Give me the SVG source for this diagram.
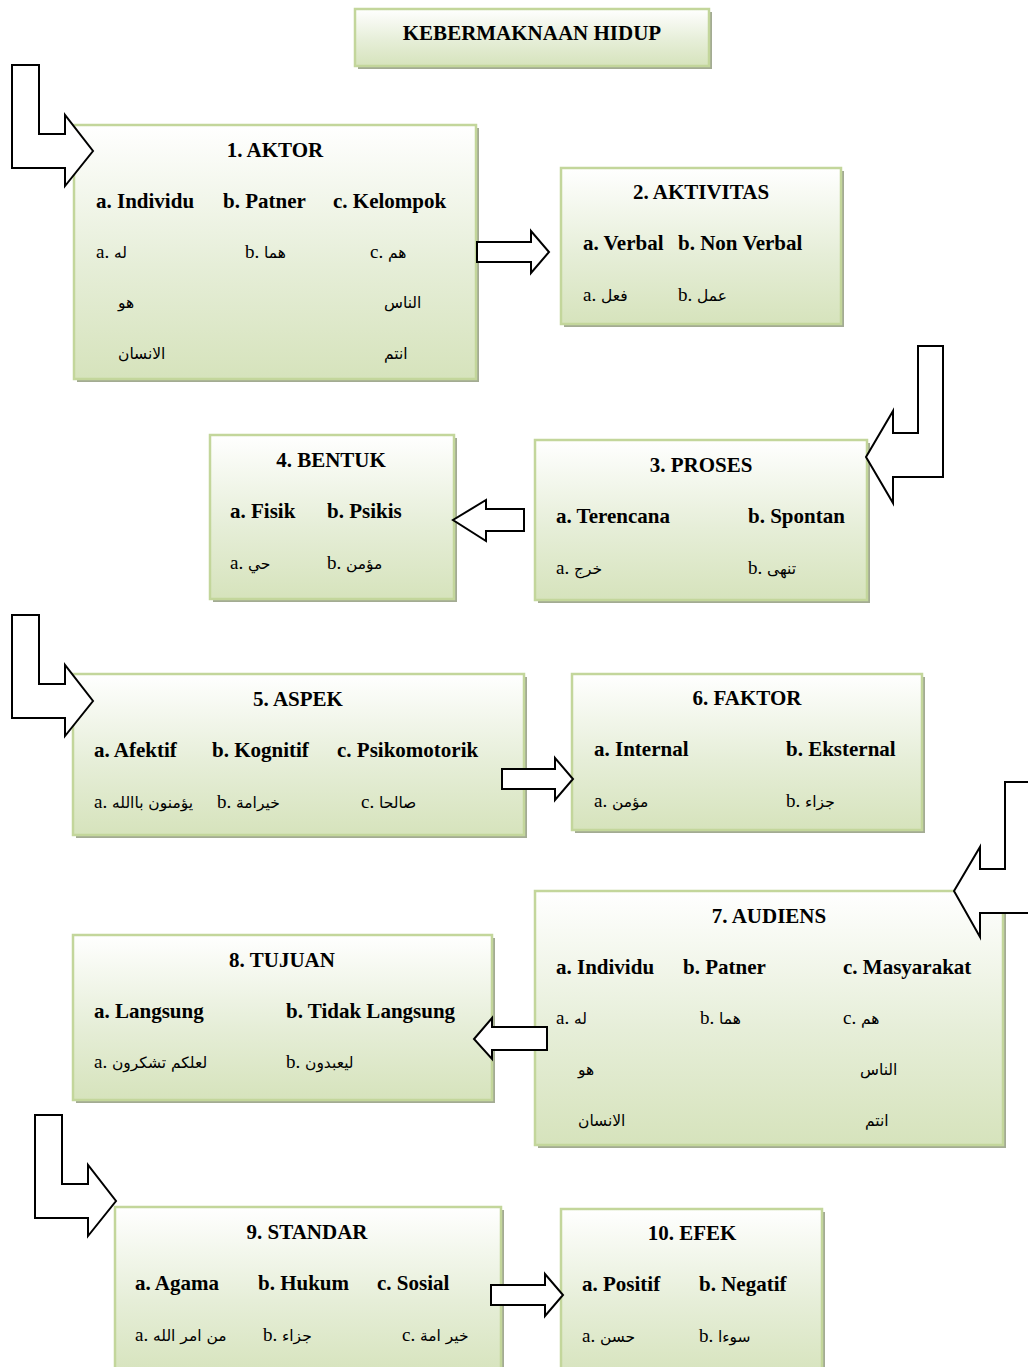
<svg xmlns="http://www.w3.org/2000/svg" width="1028" height="1367" viewBox="0 0 1028 1367">
<defs>
<linearGradient id="g" x1="0" y1="0" x2="0" y2="1">
<stop offset="0" stop-color="#ffffff"/>
<stop offset="0.55" stop-color="#e6eed8"/>
<stop offset="1" stop-color="#d6e3bc"/>
</linearGradient>
<style>
.sh{fill:#a3ab93}
.bx{fill:url(#g);stroke:#c3d69b;stroke-width:2.5}
.h{font-family:"Liberation Serif","Times New Roman",serif;font-weight:bold;font-size:21px;fill:#000}
.c{text-anchor:middle}
.r{font-family:"Liberation Serif","DejaVu Sans",serif;font-size:19px;fill:#000}
.a{font-family:"DejaVu Sans",sans-serif;font-size:15.5px}
.ar{fill:#fff;stroke:#000;stroke-width:2;stroke-linejoin:miter}
</style>
</defs>
<rect width="1028" height="1367" fill="#fff"/>

<g id="title">
<rect class="sh" x="358" y="12" width="354" height="57"/>
<rect class="bx" x="355" y="9" width="354" height="57"/>
<text class="h c" x="532" y="40">KEBERMAKNAAN HIDUP</text>
</g>

<g id="n1">
<rect class="sh" x="77" y="128" width="402" height="254"/>
<rect class="bx" x="74" y="125" width="402" height="254"/>
<text class="h c" x="275" y="157">1. AKTOR</text>
<text class="h" x="96" y="208">a. Individu</text>
<text class="h" x="223" y="208">b. Patner</text>
<text class="h" x="333" y="208">c. Kelompok</text>
<text class="r" x="96" y="258">a. <tspan class="a">له</tspan></text>
<text class="r" x="245" y="258">b. <tspan class="a">هما</tspan></text>
<text class="r" x="370" y="258">c. <tspan class="a">هم</tspan></text>
<text class="r a" x="118" y="308">هو</text>
<text class="r a" x="384" y="308">الناس</text>
<text class="r a" x="118" y="359">الانسان</text>
<text class="r a" x="384" y="359">انتم</text>
</g>

<g id="n2">
<rect class="sh" x="564" y="171" width="280" height="156"/>
<rect class="bx" x="561" y="168" width="280" height="156"/>
<text class="h c" x="701" y="199">2. AKTIVITAS</text>
<text class="h" x="583" y="250">a. Verbal</text>
<text class="h" x="678" y="250">b. Non Verbal</text>
<text class="r" x="583" y="301">a. <tspan class="a">فعل</tspan></text>
<text class="r" x="678" y="301">b. <tspan class="a">عمل</tspan></text>
</g>

<g id="n3">
<rect class="sh" x="538" y="443" width="332" height="160"/>
<rect class="bx" x="535" y="440" width="332" height="160"/>
<text class="h c" x="701" y="472">3. PROSES</text>
<text class="h" x="556" y="523">a. Terencana</text>
<text class="h" x="748" y="523">b. Spontan</text>
<text class="r" x="556" y="574">a. <tspan class="a">خرج</tspan></text>
<text class="r" x="748" y="574">b. <tspan class="a">تنهى</tspan></text>
</g>

<g id="n4">
<rect class="sh" x="213" y="438" width="244" height="164"/>
<rect class="bx" x="210" y="435" width="244" height="164"/>
<text class="h c" x="331" y="467">4. BENTUK</text>
<text class="h" x="230" y="518">a. Fisik</text>
<text class="h" x="327" y="518">b. Psikis</text>
<text class="r" x="230" y="569">a. <tspan class="a">حي</tspan></text>
<text class="r" x="327" y="569">b. <tspan class="a">مؤمن</tspan></text>
</g>

<g id="n5">
<rect class="sh" x="76" y="677" width="451" height="161"/>
<rect class="bx" x="73" y="674" width="451" height="161"/>
<text class="h c" x="298" y="706">5. ASPEK</text>
<text class="h" x="94" y="757">a. Afektif</text>
<text class="h" x="212" y="757">b. Kognitif</text>
<text class="h" x="337" y="757">c. Psikomotorik</text>
<text class="r" x="94" y="808">a. <tspan class="a">يؤمنون باالله</tspan></text>
<text class="r" x="217" y="808">b. <tspan class="a">خيرامة</tspan></text>
<text class="r" x="361" y="808">c. <tspan class="a">صالحا</tspan></text>
</g>

<g id="n6">
<rect class="sh" x="575" y="677" width="350" height="156"/>
<rect class="bx" x="572" y="674" width="350" height="156"/>
<text class="h c" x="747" y="705">6. FAKTOR</text>
<text class="h" x="594" y="756">a. Internal</text>
<text class="h" x="786" y="756">b. Eksternal</text>
<text class="r" x="594" y="807">a. <tspan class="a">مؤمن</tspan></text>
<text class="r" x="786" y="807">b. <tspan class="a">جزاء</tspan></text>
</g>

<g id="n7">
<rect class="sh" x="538" y="894" width="468" height="254"/>
<rect class="bx" x="535" y="891" width="468" height="254"/>
<text class="h c" x="769" y="923">7. AUDIENS</text>
<text class="h" x="556" y="974">a. Individu</text>
<text class="h" x="683" y="974">b. Patner</text>
<text class="h" x="843" y="974">c. Masyarakat</text>
<text class="r" x="556" y="1024">a. <tspan class="a">له</tspan></text>
<text class="r" x="700" y="1024">b. <tspan class="a">هما</tspan></text>
<text class="r" x="843" y="1024">c. <tspan class="a">هم</tspan></text>
<text class="r a" x="578" y="1075">هو</text>
<text class="r a" x="860" y="1075">الناس</text>
<text class="r a" x="578" y="1126">الانسان</text>
<text class="r a" x="865" y="1126">انتم</text>
</g>

<g id="n8">
<rect class="sh" x="76" y="938" width="419" height="165"/>
<rect class="bx" x="73" y="935" width="419" height="165"/>
<text class="h c" x="282" y="967">8. TUJUAN</text>
<text class="h" x="94" y="1018">a. Langsung</text>
<text class="h" x="286" y="1018">b. Tidak Langsung</text>
<text class="r" x="94" y="1068">a. <tspan class="a">لعلكم تشكرون</tspan></text>
<text class="r" x="286" y="1068">b. <tspan class="a">ليعبدون</tspan></text>
</g>

<g id="n9">
<rect class="sh" x="118" y="1210" width="386" height="170"/>
<rect class="bx" x="115" y="1207" width="386" height="170"/>
<text class="h c" x="307" y="1239">9. STANDAR</text>
<text class="h" x="135" y="1290">a. Agama</text>
<text class="h" x="258" y="1290">b. Hukum</text>
<text class="h" x="377" y="1290">c. Sosial</text>
<text class="r" x="135" y="1341">a. <tspan class="a">من امر الله</tspan></text>
<text class="r" x="263" y="1341">b. <tspan class="a">جزاء</tspan></text>
<text class="r" x="402" y="1341">c. <tspan class="a">خير امة</tspan></text>
</g>

<g id="n10">
<rect class="sh" x="564" y="1212" width="261" height="170"/>
<rect class="bx" x="561" y="1209" width="261" height="170"/>
<text class="h c" x="692" y="1240">10. EFEK</text>
<text class="h" x="582" y="1291">a. Positif</text>
<text class="h" x="699" y="1291">b. Negatif</text>
<text class="r" x="582" y="1342">a. <tspan class="a">حسن</tspan></text>
<text class="r" x="699" y="1342">b. <tspan class="a">سوءا</tspan></text>
</g>

<g id="connectors">
<path class="ar" d="M12,65 L39,65 L39,134 L65,134 L65,115 L93,151 L65,186 L65,168 L12,168 Z"/>
<path class="ar" d="M477,242 L531,242 L531,231 L549,252 L531,273 L531,262 L477,262 Z"/>
<path class="ar" d="M918,346 L943,346 L943,477 L893,477 L893,503 L866,457 L893,411 L893,433 L918,433 Z"/>
<path class="ar" d="M524,509 L486,509 L486,500 L453,520 L486,541 L486,531 L524,531 Z"/>
<path class="ar" d="M12,615 L39,615 L39,684 L65,684 L65,665 L93,701 L65,736 L65,718 L12,718 Z"/>
<path class="ar" d="M502,769 L555,769 L555,758 L573,779 L555,800 L555,789 L502,789 Z"/>
<path class="ar" d="M1005,782 L1032,782 L1032,913 L980,913 L980,937 L954,891 L980,847 L980,869 L1005,869 Z"/>
<path class="ar" d="M547,1027 L492,1027 L492,1018 L474,1039 L492,1059 L492,1050 L547,1050 Z"/>
<path class="ar" d="M35,1115 L62,1115 L62,1184 L88,1184 L88,1165 L116,1201 L88,1236 L88,1218 L35,1218 Z"/>
<path class="ar" d="M491,1285 L545,1285 L545,1274 L563,1295 L545,1316 L545,1305 L491,1305 Z"/>
</g>
</svg>
